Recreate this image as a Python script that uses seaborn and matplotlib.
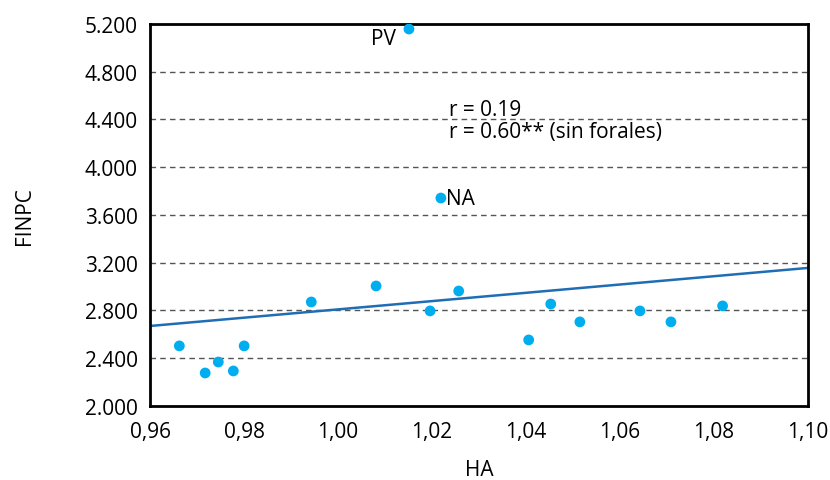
import numpy as np
import pandas as pd
import seaborn as sns
import matplotlib.pyplot as plt
from matplotlib.ticker import FuncFormatter

# values
ha = [0.9662, 0.9717, 0.9745, 0.9777, 0.9800, 0.9943, 1.0081, 1.0196, 1.0257,
      1.0151, 1.0219, 1.0406, 1.0453, 1.0515, 1.0643, 1.0709, 1.0819]
finpc = [2503, 2276, 2368, 2293, 2503, 2871, 3005, 2796, 2963,
         5158, 3742, 2553, 2854, 2704, 2796, 2704, 2838]
region = [""] * 9 + ["PV", "NA"] + [""] * 6

# fitted line as drawn in the figure (all regions)
fit_x = [0.96, 1.10]
fit_y = [2670, 3156]

xticks = [0.96, 0.98, 1.00, 1.02, 1.04, 1.06, 1.08, 1.10]
yticks = [2000, 2400, 2800, 3200, 3600, 4000, 4400, 4800, 5200]

df = pd.DataFrame({"HA": ha, "FINPC": finpc, "region": region})

sns.set_style("white")
plt.rcParams["font.family"] = ["Open Sans", "DejaVu Sans"]
plt.rcParams.update({"text.color": "black", "axes.labelcolor": "black",
                     "xtick.color": "black", "ytick.color": "black"})

fig, ax = plt.subplots(figsize=(8.3, 4.81), dpi=100)
fig.subplots_adjust(left=0.181, right=0.973, top=0.948, bottom=0.154)

for y in yticks[1:-1]:
    ax.axhline(y, color="#555555", lw=1, ls=(0, (4, 3)), zorder=1)

sns.lineplot(x=fit_x, y=fit_y, color="#1f6db5", lw=1.8, ax=ax, zorder=2)
sns.scatterplot(data=df, x="HA", y="FINPC", color="#00aeef", s=60,
                edgecolor="none", ax=ax, zorder=3)

for _, r in df[df.region != ""].iterrows():
    if r.region == "PV":
        ax.annotate(r.region, (r.HA, r.FINPC), xytext=(-9, -7),
                    textcoords="offset points", ha="right", va="center",
                    fontsize=15)
    else:
        ax.annotate(r.region, (r.HA, r.FINPC), xytext=(4, 0),
                    textcoords="offset points", ha="left", va="center",
                    fontsize=15)

ax.text(1.0236, 4390, "r = 0.19\nr = 0.60** (sin forales)", fontsize=15,
        va="center", ha="left", linespacing=1.1)

ax.set_xlim(0.96, 1.10)
ax.set_ylim(2000, 5200)
ax.set_xticks(xticks)
ax.set_yticks(yticks)
ax.xaxis.set_major_formatter(FuncFormatter(lambda v, p: f"{v:.2f}".replace(".", ",")))
ax.yaxis.set_major_formatter(FuncFormatter(lambda v, p: f"{v/1000:.3f}"))
ax.tick_params(direction="inout", length=12, width=1.5, labelsize=15, pad=3)
ax.tick_params(axis="x", pad=5)
for s in ax.spines.values():
    s.set_color("black")
    s.set_linewidth(2)

ax.set_xlabel("HA", fontsize=15, labelpad=12)
ax.set_ylabel("FINPC", fontsize=15, labelpad=36)

fig.savefig("out.png", dpi=100)
